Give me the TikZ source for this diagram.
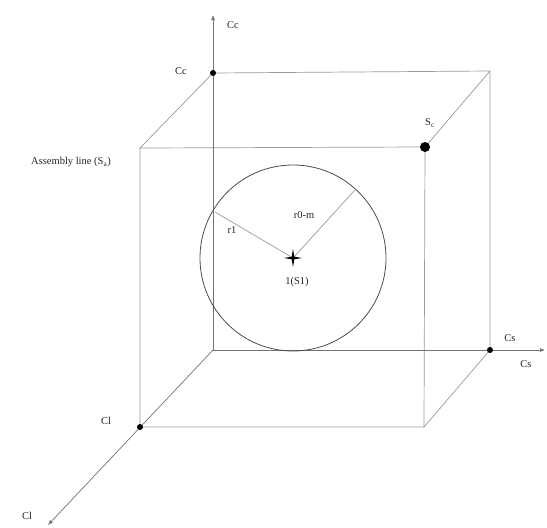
\documentclass[tikz,border=0pt]{standalone}
\usepackage{fontspec}
\setmainfont{Liberation Serif}
\usetikzlibrary{arrows.meta}
\begin{document}
\begin{tikzpicture}[x=1pt,y=-1pt,
  boxline/.style={draw=black!40,line width=0.7pt},
  axisline/.style={draw=black!55,line width=0.7pt,-{Latex[length=5pt,width=4pt]}},
  dotnode/.style={circle,fill=black,inner sep=0pt,minimum size=6pt},
  bigdot/.style={circle,fill=black,inner sep=0pt,minimum size=10pt},
  lbl/.style={font=\fontsize{10.5}{12}\selectfont,inner sep=1pt,text=black!85}]
\useasboundingbox (0,0) rectangle (547,528);
% corners
\coordinate (B1) at (213,73);
\coordinate (B2) at (490,71);
\coordinate (B3) at (490,350);
\coordinate (B4) at (213,350);
\coordinate (F1) at (140,148);
\coordinate (F2) at (425,147);
\coordinate (F3) at (424,427);
\coordinate (F4) at (140,427);
\coordinate (AZ) at (213,15);
\coordinate (AX) at (545,350);
\coordinate (AY) at (48,525);
\coordinate (O) at (293,258);
% back face
\draw[boxline] (B1) -- (B2) -- (B3);
% front face
\draw[boxline] (F1) -- (F2) -- (F3) -- (F4) -- cycle;
% diagonals
\draw[boxline] (F1) -- (B1);
\draw[boxline] (F2) -- (B2);
\draw[boxline] (F3) -- (B3);
% axes
\draw[axisline] (B4) -- (AZ);
\draw[axisline] (B4) -- (AX);
\draw[axisline] (B4) -- (AY);
% circle
\draw[black!70,line width=0.8pt] (O) circle[radius=93];
\path (O) ++(-78,-46) coordinate (R1);
\path (O) ++(62,-68) coordinate (R0);
\draw[boxline] (O) -- (R1);
\draw[boxline] (O) -- (R0);
% star at centre
\node (S1) at (O) {};
\fill[black] (O) ++(0,-9) -- ++(1.3,7.7) -- ++(7.7,1.3) -- ++(-7.7,1.3) -- ++(-1.3,7.7) -- ++(-1.3,-7.7) -- ++(-7.7,-1.3) -- ++(7.7,-1.3) -- cycle;
% dots
\node[dotnode] (Cc) at (B1) {};
\node[dotnode] (Cs) at (B3) {};
\node[dotnode] (Cl) at (F4) {};
\node[bigdot] (Sc) at (F2) {};
% labels
\node[lbl] at (233,25) {Cc};
\node[lbl] at (181,71) {Cc};
\node[lbl] at (71,162) {Assembly line (S$_\mathrm{a}$)};
\node[lbl] at (430,123) {S$_\mathrm{c}$};
\node[lbl] at (232,230) {r1};
\node[lbl] at (304,215) {r0-m};
\node[lbl] at (297,282) {1(S1)};
\node[lbl] at (510,338) {Cs};
\node[lbl] at (526,364) {Cs};
\node[lbl] at (106,421) {Cl};
\node[lbl] at (27,516) {Cl};
\end{tikzpicture}
\end{document}
